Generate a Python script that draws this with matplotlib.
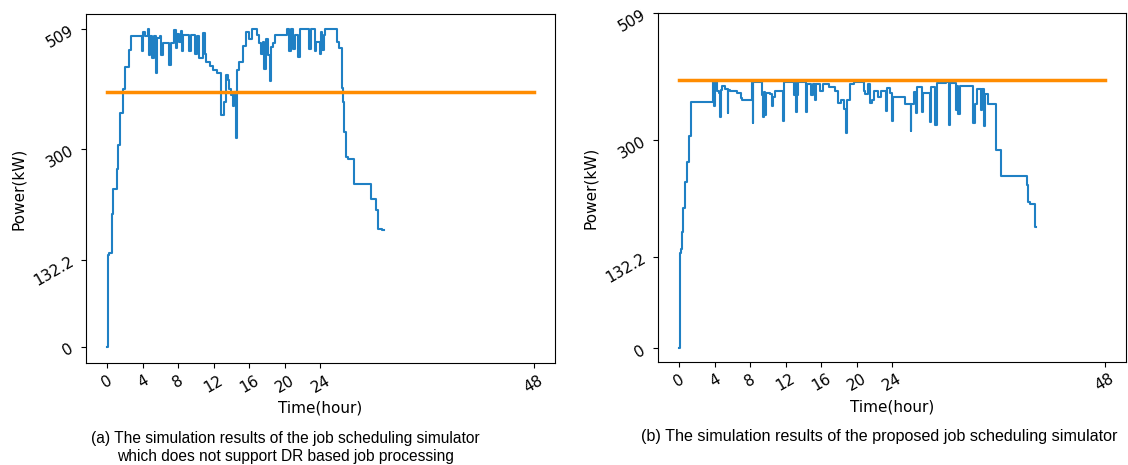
import matplotlib
matplotlib.use('Agg')
import matplotlib.pyplot as plt
import numpy as np

# step series (hour, kW)
BASE_T = [
	0.00, 0.03, 0.25, 0.50, 0.58, 0.70, 1.08, 1.22, 1.40, 1.75, 2.02, 2.40, 2.62,
	3.90, 4.00, 4.30, 4.55, 4.70, 4.85, 5.05, 5.25, 5.50, 5.62, 5.95, 6.10, 6.25,
	7.00, 7.15, 7.55, 7.70, 7.85, 8.05, 8.25, 8.40, 8.55, 9.15, 9.40, 9.85, 10.10,
	10.30, 10.80, 11.00, 11.10, 11.60, 11.95, 12.30, 12.75, 13.10, 13.40, 13.55,
	13.75, 13.95, 14.10, 14.30, 14.45, 14.62, 14.85, 15.30, 15.65, 15.95, 16.30,
	16.85, 17.05, 17.30, 17.50, 17.65, 17.85, 18.10, 18.30, 18.45, 18.65, 18.85,
	20.25, 20.50, 20.70, 20.90, 21.10, 21.45, 21.65, 22.75, 22.95, 23.35, 23.55,
	23.95, 24.10, 24.20, 24.35, 24.50, 25.90, 26.05, 26.40, 26.55, 26.70, 26.90,
	27.10, 27.72, 29.65, 30.30, 30.45, 30.90, 31.10
]
BASE_KW = [
	0, 140, 143, 167, 201, 240, 270, 307, 364, 405, 443, 472, 496,
	470, 503, 497, 509, 464, 496, 458, 497, 432, 493, 496, 464, 485,
	447, 485, 507, 476, 501, 487, 505, 470, 498, 470, 499, 465, 497,
	458, 502, 466, 451, 445, 437, 432, 360, 383, 429, 420,
	405, 395, 375, 400, 320, 437, 452, 480, 504, 492, 509,
	498, 484, 466, 487, 440, 492, 464, 418, 478, 484, 499,
	509, 470, 509, 475, 499, 460, 509, 475, 509, 470, 487,
	465, 504, 472, 498, 509, 487, 476, 406, 383, 330, 289,
	285, 248, 224, 208, 179, 177, 177
]

DR_T = [
	0.00, 0.03, 0.25, 0.33, 0.42, 0.62, 0.92, 1.15, 1.38, 3.86, 3.95, 4.02, 4.22,
	4.45, 4.60, 4.66, 4.86, 5.20, 5.45, 5.55, 5.75, 6.55, 6.95, 7.05, 8.22, 8.30,
	8.36, 9.30, 9.45, 9.55, 9.70, 9.80, 10.25, 10.50, 10.60, 10.85, 11.75, 11.85,
	12.90, 13.05, 13.20, 13.30, 13.45, 14.35, 14.45, 14.90, 15.05, 15.30, 15.45,
	15.90, 16.20, 16.95, 17.60, 17.95, 18.25, 18.60, 18.80, 18.90, 19.25, 19.70,
	20.80, 21.00, 21.25, 21.55, 21.70, 22.00, 22.40, 22.80, 23.30, 23.40, 23.80,
	24.05, 24.15, 25.45, 26.10, 26.20, 26.45, 26.70, 26.85, 27.40, 27.55, 28.30,
	28.40, 28.90, 29.05, 30.10, 30.40, 30.50, 31.20, 31.35, 31.50, 31.65, 33.10,
	33.35, 33.55, 34.00, 34.15, 34.40, 34.55, 34.85, 35.70, 36.30, 39.20, 39.35,
	39.55, 40.15, 40.25
]
DR_KW = [
	0, 138, 144, 168, 202, 240, 269, 307, 363, 396, 356, 396, 381,
	378, 339, 383, 389, 384, 345, 383, 381, 378, 369, 366, 396, 328,
	396, 374, 338, 380, 342, 378, 376, 357, 372, 381, 332, 396,
	374, 396, 346, 375, 396, 346, 393, 374, 393, 366, 393,
	381, 393, 388, 381, 362, 367, 351, 313, 367, 393, 396,
	381, 376, 393, 362, 367, 381, 371, 381, 349, 386, 378,
	332, 371, 360, 316, 360, 380, 345, 388, 346, 378, 330,
	388, 325, 394, 396, 325, 394, 350, 390, 343, 389, 328,
	360, 384, 350, 384, 323, 376, 360, 286, 248, 236, 211,
	208, 175, 175
]

LIMIT_T = [0, 48]
LIMIT_KW = [400, 400]

X_TICKS = [0, 4, 8, 12, 16, 20, 24, 48]
Y_TICKS = [0, 132.2, 300, 509]
Y_TICK_LABELS = ['0', '132.2', '300', '509']

CAPTION_A = '(a) The simulation results of the job scheduling simulator\nwhich does not support DR based job processing'
CAPTION_B = '(b) The simulation results of the proposed job scheduling simulator'

# the original axis is squeezed above 300 kW
SQUEEZE = 0.877


def forward(v):
	v = np.asarray(v, dtype=float)
	return np.where(v <= 300, v, 300 + (v - 300) * SQUEEZE)


def inverse(p):
	p = np.asarray(p, dtype=float)
	return np.where(p <= 300, p, 300 + (p - 300) / SQUEEZE)


def style_axes(ax, ylim):
	ax.set_yscale('function', functions=(forward, inverse))
	ax.set_xlim(-2.4, 50.4)
	ax.set_ylim(*ylim)
	ax.set_xticks(X_TICKS)
	ax.set_xticklabels([str(t) for t in X_TICKS], rotation=30)
	ax.set_yticks(Y_TICKS)
	ax.set_yticklabels(Y_TICK_LABELS, rotation=30)
	ax.minorticks_off()
	ax.set_xlabel('Time(hour)')
	ax.set_ylabel('Power(kW)')


if __name__ == '__main__':
	plt.rcParams['font.family'] = 'DejaVu Sans'
	plt.rcParams['font.size'] = 11

	fig = plt.figure(figsize=(11.28, 4.65), dpi=100)

	ax1 = fig.add_axes([0.0762, 0.2194, 0.4158, 0.7505])
	ax1.plot(BASE_T, BASE_KW, drawstyle='steps-post', color='#1f80c4', lw=1.5)
	ax1.plot(LIMIT_T, LIMIT_KW, color='#ff8c00', lw=2.5)
	style_axes(ax1, (-25, 535))

	ax2 = fig.add_axes([0.5833, 0.2222, 0.4149, 0.7492])
	ax2.plot(DR_T, DR_KW, drawstyle='steps-post', color='#1f80c4', lw=1.5)
	ax2.plot(LIMIT_T, LIMIT_KW, color='#ff8c00', lw=2.5)
	style_axes(ax2, (-19, 509))

	fig.text(285 / 1128, 1 - 447 / 465, CAPTION_A, ha='center', va='center',
		fontsize=11.2, family='Liberation Sans', linespacing=1.25)
	fig.text(879 / 1128, 1 - 436 / 465, CAPTION_B, ha='center', va='center',
		fontsize=11.6, family='Liberation Sans')

	fig.savefig('out.png', dpi=100)
